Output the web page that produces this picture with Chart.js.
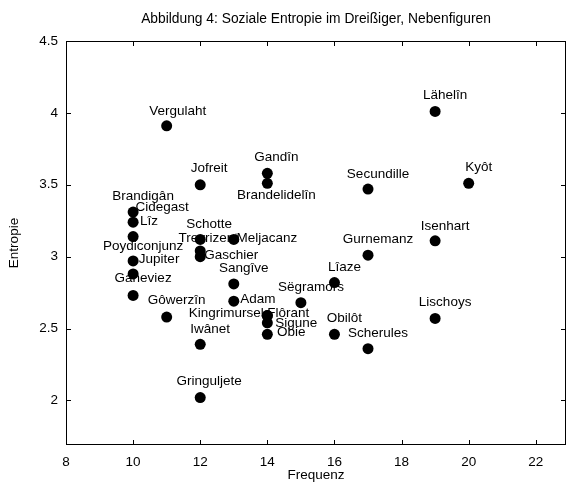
<!DOCTYPE html>
<html>
<head>
<meta charset="utf-8">
<script src="https://cdn.jsdelivr.net/npm/chart.js@4.4.0/dist/chart.umd.min.js"></script>
<style>
    html, body { margin: 0; padding: 0; background: #fff; }
</style>
</head>
<body>
<canvas id="entropy-chart" width="566" height="484"></canvas>
<script>
// Nebenfiguren: Frequenz (x) und Entropie (y)
const names = [
    'Vergulaht', 'Lähelîn', 'Jofreit', 'Gandîn', 'Brandelidelîn', 'Secundille', 'Kyôt',
    'Brandigân', 'Cidegast', 'Lîz', 'Schotte', 'Trevrizent', 'Meljacanz', 'Isenhart',
    'Gurnemanz', 'Gaschier', 'Poydiconjunz', 'Jupiter', 'Sangîve', 'Lîaze', 'Ganeviez',
    'Sëgramors', 'Adam', 'Gôwerzîn', 'Lischoys', 'Kingrimursel', 'Flôrant', 'Sigune',
    'Obie', 'Obilôt', 'Scherules', 'Iwânet', 'Gringuljete'
];
const frequenz = [
    11, 19, 12, 14, 14, 17, 20,
    10, 10, 10, 12, 12, 13, 19,
    17, 12, 10, 10, 13, 16, 10,
    15, 13, 11, 19, 14, 14, 14,
    14, 16, 17, 12, 12
];
const entropie = [
    3.91, 4.01, 3.50, 3.58, 3.51, 3.47, 3.51,
    3.31, 3.24, 3.14, 3.12, 3.04, 3.12, 3.11,
    3.01, 3.00, 2.97, 2.88, 2.81, 2.82, 2.73,
    2.68, 2.69, 2.58, 2.57, 2.59, 2.59, 2.54,
    2.46, 2.46, 2.36, 2.39, 2.02
];
const xTicks = [8, 10, 12, 14, 16, 18, 20, 22];
const yTicks = [2, 2.5, 3, 3.5, 4, 4.5];

// where each name sits relative to its point (px)
const labelDx = [
    11, 10, 9, 9, 9, 10, 10,
    10, 29, 16, 9, 8, 33, 10,
    10, 31, 10, 26, 10, 10, 10,
    10, 24, 10, 10, -41, 21, 29,
    24, 10, 10, 10, 9
];
const labelDy = [
    -15, -16, -16, -16, 12, -15, -16,
    -16, -15, -15, -15, -13, -1, -15,
    -16, -1, -15, -15, -16, -15, -17,
    -15, -2, -17, -16, -2, -2, 0,
    -2, -16, -15, -15, -16
];

const FONT = "'Liberation Sans', Arial, sans-serif";

// box round the plot with inward ticks on all four sides
const framePlugin = {
    id: 'frame',
    afterDraw(chart) {
        const { ctx, chartArea: a, scales } = chart;
        ctx.save();
        ctx.strokeStyle = '#000';
        ctx.lineWidth = 1;
        ctx.strokeRect(a.left + 0.5, a.top + 0.5, a.right - a.left - 1, a.bottom - a.top - 1);
        ctx.beginPath();
        xTicks.forEach(v => {
            const px = Math.round(scales.x.getPixelForValue(v)) + 0.5;
            ctx.moveTo(px, a.bottom); ctx.lineTo(px, a.bottom - 5);
            ctx.moveTo(px, a.top); ctx.lineTo(px, a.top + 5);
        });
        yTicks.forEach(v => {
            const py = Math.round(scales.y.getPixelForValue(v)) + 0.5;
            ctx.moveTo(a.left, py); ctx.lineTo(a.left + 5, py);
            ctx.moveTo(a.right, py); ctx.lineTo(a.right - 5, py);
        });
        ctx.stroke();
        ctx.restore();
    }
};

// names next to the points
const namePlugin = {
    id: 'names',
    beforeDatasetsDraw(chart) {
        const { ctx } = chart;
        const meta = chart.getDatasetMeta(0);
        ctx.save();
        ctx.font = '13.5px ' + FONT;
        ctx.fillStyle = '#000';
        ctx.textAlign = 'center';
        ctx.textBaseline = 'middle';
        meta.data.forEach((pt, i) => {
            ctx.fillText(names[i], pt.x + labelDx[i], pt.y + labelDy[i]);
        });
        ctx.restore();
    }
};

const ctx = document.getElementById('entropy-chart').getContext('2d');
new Chart(ctx, {
    type: 'scatter',
    data: {
        datasets: [{
            label: 'Nebenfiguren',
            data: frequenz.map((f, i) => ({ x: f, y: entropie[i] })),
            backgroundColor: '#000',
            borderWidth: 0,
            pointRadius: 5.5,
            pointHoverRadius: 5.5
        }]
    },
    options: {
        responsive: false,
        animation: false,
        events: [],
        layout: { padding: 0, autoPadding: false },
        plugins: {
            legend: { display: false },
            tooltip: { enabled: false },
            title: {
                display: true,
                fullSize: false,
                text: 'Abbildung 4: Soziale Entropie im Dreißiger, Nebenfiguren',
                color: '#000',
                font: { family: FONT, size: 13.8, weight: 'normal', lineHeight: '17px' },
                padding: { top: 11, bottom: 13 }
            }
        },
        scales: {
            x: {
                type: 'linear',
                min: 8,
                max: 22.9,
                afterBuildTicks: s => { s.ticks = xTicks.map(v => ({ value: v })); },
                afterFit: s => { s.height = 39; s.paddingLeft = 0; s.paddingRight = 0; },
                grid: { display: false, drawTicks: false },
                border: { display: false },
                ticks: {
                    color: '#000',
                    padding: 9,
                    font: { family: FONT, size: 13.5, lineHeight: '16px' },
                    callback: v => String(v)
                },
                title: {
                    display: true,
                    text: 'Frequenz',
                    color: '#000',
                    font: { family: FONT, size: 13.5, lineHeight: '16px' },
                    padding: { top: 0, bottom: 1 }
                }
            },
            y: {
                type: 'linear',
                min: 1.69,
                max: 4.5,
                afterBuildTicks: s => { s.ticks = yTicks.map(v => ({ value: v })); },
                afterFit: s => { s.width = 66; s.paddingTop = 0; s.paddingBottom = 0; },
                grid: { display: false, drawTicks: false },
                border: { display: false },
                ticks: {
                    color: '#000',
                    padding: 8,
                    font: { family: FONT, size: 13.5, lineHeight: '16px' },
                    callback: v => String(v)
                },
                title: {
                    display: true,
                    text: 'Entropie',
                    color: '#000',
                    font: { family: FONT, size: 13.5, lineHeight: '16px' },
                    padding: { top: 6, bottom: 0 }
                }
            }
        }
    },
    plugins: [namePlugin, framePlugin]
});
</script>
</body>
</html>
